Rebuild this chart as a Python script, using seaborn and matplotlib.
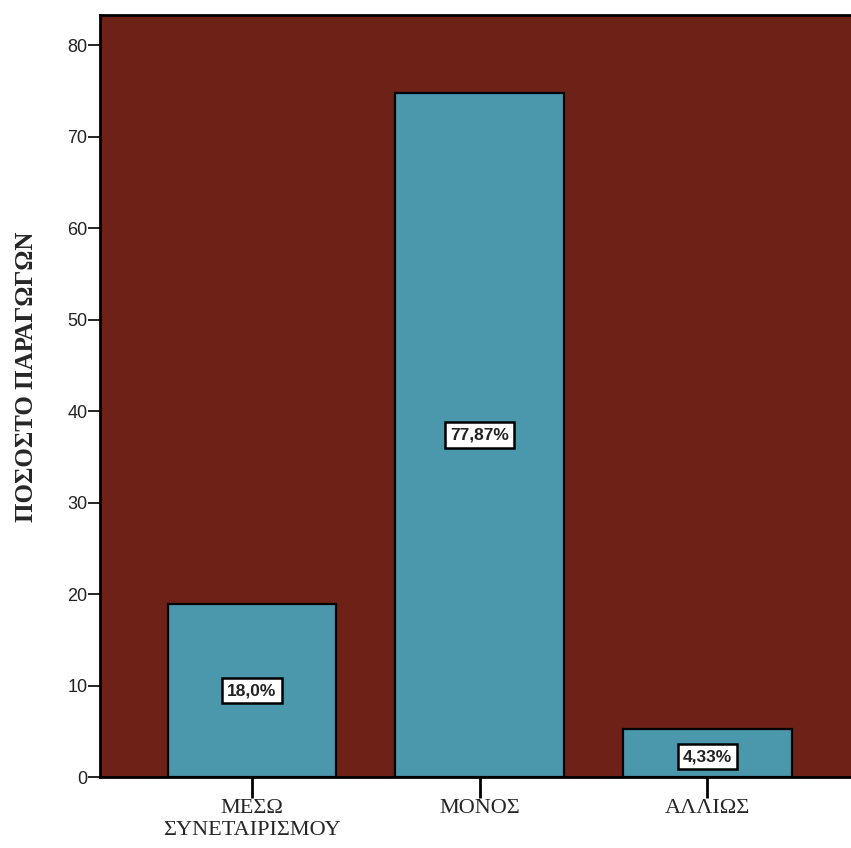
import matplotlib
matplotlib.use("Agg")
import matplotlib.pyplot as plt
import seaborn as sns
import pandas as pd

categories = ["ΜΕΣΩ\nΣΥΝΕΤΑΙΡΙΣΜΟΥ", "ΜΟΝΟΣ", "ΑΛΛΙΩΣ"]
values = [18.9, 74.8, 5.3]
labels = ["18,0%", "77,87%", "4,33%"]
y_ticks = [0, 10, 20, 30, 40, 50, 60, 70, 80]

df = pd.DataFrame({"cat": categories, "val": values})

sns.set_style("white")
plt.rcParams["font.family"] = ["Liberation Sans", "DejaVu Sans"]

fig = plt.figure(figsize=(8.51, 8.48), dpi=100)
ax = fig.add_axes([0.1175, 0.0837, 0.8825, 0.8983])

bg = "#6d2117"
bar_color = "#4b98ad"
ax.set_facecolor(bg)

sns.barplot(data=df, x="cat", y="val", color=bar_color, edgecolor="black",
            linewidth=1.6, width=0.74, saturation=1, ax=ax)

ax.set_xlim(-0.667, 2.63)
ax.set_ylim(0, 83.3)
ax.set_yticks(y_ticks)
ax.set_yticklabels([str(t) for t in y_ticks], fontsize=13, color="#222222")
ax.tick_params(axis="y", direction="out", length=9, width=1.2, color="black", left=True, pad=0)
ax.tick_params(axis="x", direction="out", length=15, width=2, color="black", bottom=True, pad=1)
for lab in ax.get_xticklabels():
    lab.set_fontfamily(["Liberation Serif", "DejaVu Serif"])
    lab.set_fontsize(16)
    lab.set_linespacing(1.2)

ax.set_xlabel("")
ax.set_ylabel("ΠΟΣΟΣΤΟ ΠΑΡΑΓΩΓΩΝ", fontsize=18, fontweight="bold",
              family=["Liberation Serif", "DejaVu Serif"])
ax.yaxis.set_label_coords(-0.083, 0.526)

for s in ["left", "bottom", "top"]:
    ax.spines[s].set_visible(True)
    ax.spines[s].set_color("black")
    ax.spines[s].set_linewidth(2)
ax.spines["right"].set_visible(False)

for i, (v, t) in enumerate(zip(values, labels)):
    yy = v / 2 if v > 10 else v * 0.42
    ax.text(i, yy, t, ha="center", va="center", fontsize=12.5, fontweight="bold",
            color="#222222",
            bbox=dict(boxstyle="square,pad=0.3", facecolor="white", edgecolor="black", linewidth=1.8))

fig.savefig("out.png", dpi=100)
